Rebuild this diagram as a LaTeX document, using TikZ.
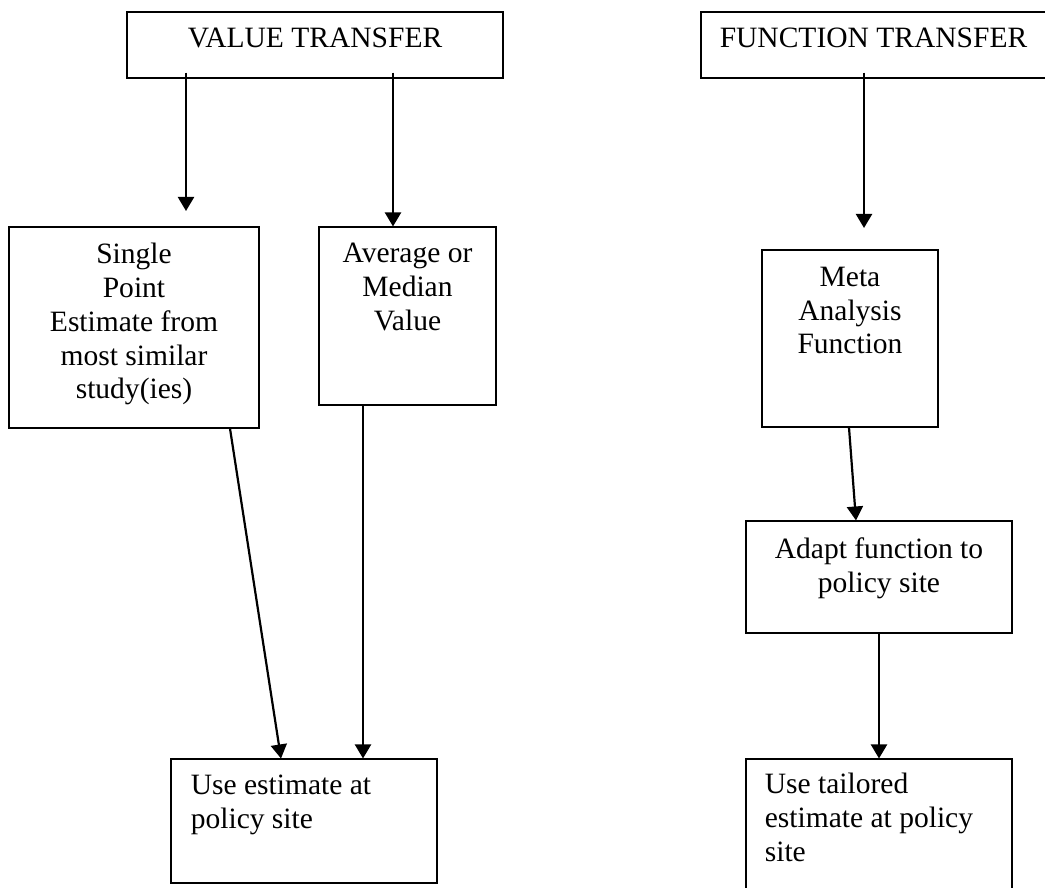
\documentclass[tikz,border=0pt]{standalone}
\usepackage{fontspec}
\setmainfont{Liberation Serif}
\usepackage{tikz}
\usetikzlibrary{arrows.meta, positioning, calc, fit}

\begin{document}
\begin{tikzpicture}[
    x=0.02cm, y=-0.02cm,
    box/.style={draw, line width=0.6pt, inner sep=0pt},
    txt/.style={inner sep=0pt, align=center, font=\fontsize{16.8}{19.3}\selectfont},
    arr/.style={line width=1.25pt, -{Triangle[width=0.32cm, length=0.28cm]}}
]
    \useasboundingbox (0,0) rectangle (1045,888);

    % boxes
    \node[box, fit={(127,12) (503,78)}] (vt) {};
    \node[box, fit={(701,12) (1046,78)}] (ft) {};
    \node[box, fit={(9,227) (259,428)}] (sp) {};
    \node[box, fit={(319,227) (496,405)}] (av) {};
    \node[box, fit={(762,250) (938,427)}] (ma) {};
    \node[box, fit={(746,521) (1012,633)}] (ad) {};
    \node[box, fit={(171,759) (437,883)}] (ue) {};
    \node[box, fit={(746,759) (1012,892)}] (ut) {};

    % texts
    \node[txt, below=0.32cm of vt.north] {VALUE TRANSFER};
    \node[txt, below=0.32cm of ft.north] {FUNCTION TRANSFER};
    \node[txt, below=0.32cm of sp.north] {Single\\Point\\Estimate from\\most similar\\study(ies)};
    \node[txt, below=0.32cm of av.north] {Average or\\Median\\Value};
    \node[txt, below=0.34cm of ma.north] {Meta\\Analysis\\Function};
    \node[txt, below=0.34cm of ad.north] {Adapt function to\\policy site};
    \node[txt, align=left, anchor=north west] at ($(ue.north west)+(20,16)$) {Use estimate at\\policy site};
    \node[txt, align=left, anchor=north west] at ($(ut.north west)+(19,14)$) {Use tailored\\estimate at policy\\site};

    % arrows
    \coordinate (s1) at (186,211);
    \coordinate (m1) at (864,228);
    \draw[arr] ($(vt.south -| s1)+(0,-6)$) -- (s1);
    \draw[arr] ($(vt.south)+(78,-6)$) -- ($(av.north)+(-14.5,0)$);
    \draw[arr] ($(ft.south -| m1)+(0,-6)$) -- (m1);
    \draw[arr] ($(sp.south)+(96,0)$) -- ($(ue.north)+(-23,0)$);
    \draw[arr] ($(av.south)+(-44.5,0)$) -- ($(ue.north)+(59,0)$);
    \draw[arr] ($(ma.south)+(-1,0)$) -- ($(ad.north)+(-23,0)$);
    \draw[arr] (ad.south) -- (ut.north);
\end{tikzpicture}
\end{document}
